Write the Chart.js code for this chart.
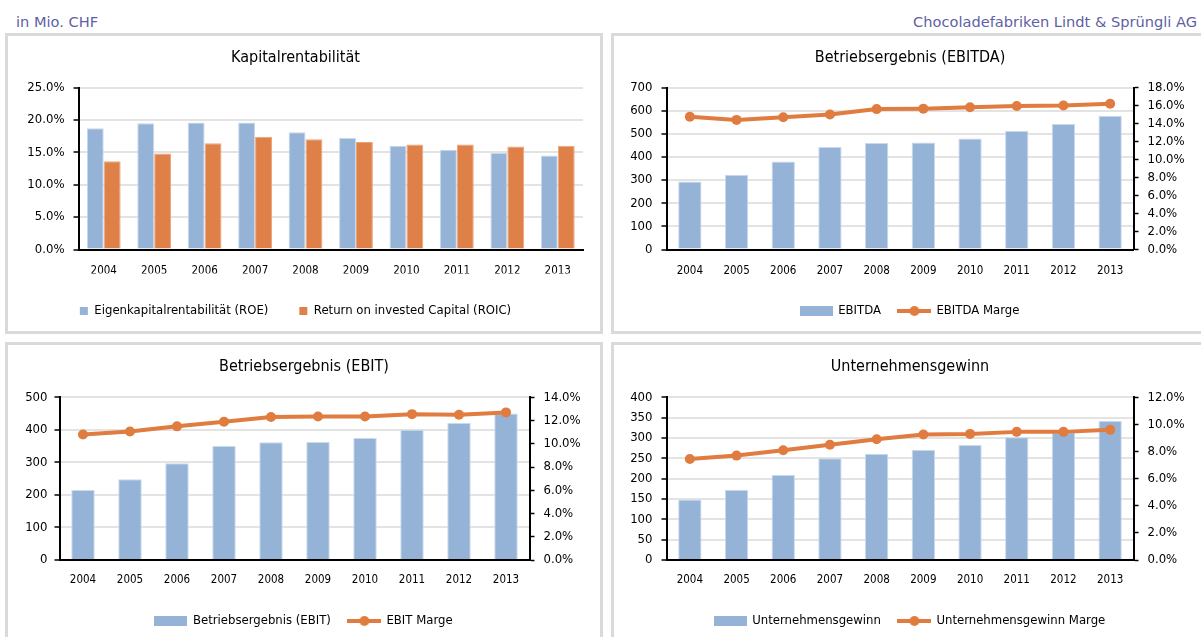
<!DOCTYPE html>
<html><head><meta charset="utf-8">
<script src="https://cdn.jsdelivr.net/npm/chart.js@4"></script>
<style>
html,body{margin:0;padding:0;background:#fff;width:1201px;height:637px;overflow:hidden;position:relative;
  font-family:'DejaVu Sans','DejaVu Sans Condensed',sans-serif;}
.hdr{position:absolute;top:13px;line-height:18px;font-size:14.6px;color:#5f5fa3;white-space:nowrap;}
.panel{position:absolute;box-sizing:border-box;border:3px solid #dadada;background:#fff;width:598px;overflow:hidden;}
.panel canvas{position:absolute;left:0;top:0;}
</style></head>
<body>
<div class="hdr" style="left:16px">in Mio. CHF</div>
<div class="hdr" style="right:4px">Chocoladefabriken Lindt &amp; Sprüngli AG</div>
<div class="panel" style="left:5px;top:33px;height:301px"><canvas id="c1" width="592" height="295"></canvas></div>
<div class="panel" style="left:611px;top:33px;height:301px"><canvas id="c2" width="592" height="295"></canvas></div>
<div class="panel" style="left:5px;top:342px;height:301px"><canvas id="c3" width="592" height="295"></canvas></div>
<div class="panel" style="left:611px;top:342px;height:301px"><canvas id="c4" width="592" height="295"></canvas></div>
<script>
const years = ['2004','2005','2006','2007','2008','2009','2010','2011','2012','2013'];
const roe  = [18.7, 19.5, 19.6, 19.6, 18.1, 17.2, 16.0, 15.4, 14.9, 14.5];
const roic = [13.6, 14.8, 16.4, 17.4, 17.0, 16.6, 16.2, 16.2, 15.9, 16.0];
const ebitda       = [294, 323, 380, 443, 460, 462, 480, 512, 542, 578];
const ebitdaMargin = [14.75, 14.4, 14.7, 15.0, 15.6, 15.65, 15.8, 15.95, 16.0, 16.2];
const ebit         = [215, 248, 297, 350, 362, 363, 375, 400, 421, 450];
const ebitMargin   = [10.8, 11.05, 11.5, 11.9, 12.3, 12.35, 12.35, 12.55, 12.5, 12.7];
const profit       = [149, 173, 209, 250, 261, 271, 283, 302, 314, 342];
const profitMargin = [7.45, 7.7, 8.1, 8.5, 8.9, 9.25, 9.3, 9.45, 9.45, 9.6];

const FONT = "'DejaVu Sans Condensed','DejaVu Sans',sans-serif";
const BLUE = '#95b3d7', ORANGE = '#e07c3f', BAR_ORANGE = '#de8048';
const W = 592, H = 295;

function barIcon(){
  const c = document.createElement('canvas'); c.width = 33; c.height = 10;
  const x = c.getContext('2d'); x.fillStyle = BLUE; x.fillRect(0,0,33,10); return c;
}
function lineIcon(){
  const c = document.createElement('canvas'); c.width = 34; c.height = 12;
  const x = c.getContext('2d'); x.strokeStyle = ORANGE; x.lineWidth = 4;
  x.beginPath(); x.moveTo(0,6); x.lineTo(34,6); x.stroke();
  x.fillStyle = ORANGE; x.beginPath(); x.arc(17,6,5,0,Math.PI*2); x.fill(); return c;
}
const pct1 = v => Number(v).toFixed(1) + '%';

function build(id, s){
  const titleSize = 16, titleLH = titleSize * 1.2;
  const legSize = 13, p = s.legPad;
  const xFont = 11.5, xLH = xFont * 1.2;
  const padTop = s.titleY - titleLH / 2;
  const padBot = s.plotTop - padTop - titleLH;
  const legendTop = s.legendY - p - legSize / 2;
  const legendH = legSize + p + 10;
  const layoutBottom = H - legendTop - legendH;
  const xAxisH = legendTop - s.plotBottom;
  const xPad = s.xLabelY - s.plotBottom - xLH / 2;

  const scales = {
    x: {
      offset: true,
      grid: { display: false, drawTicks: false },
      border: { display: true, color: '#000', width: 2, z: 1 },
      ticks: { color: '#000', font: { family: FONT, size: xFont, lineHeight: 1.2 }, padding: xPad, maxRotation: 0, autoSkip: false },
      afterFit: sc => { sc.height = xAxisH; }
    },
    y: {
      position: 'left', min: s.yMin, max: s.yMax,
      grid: { color: '#e3e3e3', lineWidth: 2, tickLength: 5, tickColor: '#000', tickWidth: 1.5 },
      border: { display: true, color: '#000', width: 2, z: 1 },
      ticks: { stepSize: s.yStep, autoSkip: false, color: '#000', font: { family: FONT, size: 13 }, padding: s.yPad, callback: s.yFmt },
      afterFit: sc => { sc.width = s.plotLeft; }
    }
  };
  if (s.y2) {
    scales.y2 = {
      position: 'right', min: 0, max: s.y2Max,
      grid: { drawOnChartArea: false, tickLength: 5, tickColor: '#000', tickWidth: 1.5 },
      border: { display: true, color: '#000', width: 2, z: 1 },
      ticks: { stepSize: 2, autoSkip: false, color: '#000', font: { family: FONT, size: 13 }, padding: 9, callback: pct1 },
      afterFit: sc => { sc.width = W - s.plotRight; }
    };
  }
  return new Chart(document.getElementById(id), {
    data: { labels: years, datasets: s.datasets },
    options: {
      responsive: false, animation: false, events: [],
      layout: { padding: { top: 0, left: 0, right: s.y2 ? 0 : W - s.plotRight, bottom: layoutBottom } },
      scales,
      plugins: {
        tooltip: { enabled: false },
        title: { display: true, text: s.title, color: '#000',
          font: { family: FONT, size: titleSize, weight: 'normal', lineHeight: 1.2 },
          padding: { top: padTop, bottom: padBot } },
        legend: { display: true, position: 'bottom',
          labels: Object.assign({ color: '#000', padding: p, font: { family: FONT, size: legSize },
            generateLabels: () => s.legend.map(it => Object.assign({ hidden: false, lineWidth: 0, fontColor: '#000' }, it)) }, s.legendOpts) }
      }
    }
  });
}

const barStyle = (data, label, color, border, extra) => Object.assign({
  type: 'bar', label, data, backgroundColor: color, borderColor: border,
  borderWidth: { top: 1, left: 1, right: 1, bottom: 0 }, borderSkipped: 'bottom', yAxisID: 'y', order: 1
}, extra || {});
const lineStyle = (data, label) => ({
  type: 'line', label, data, yAxisID: 'y2', order: 0, borderColor: ORANGE, backgroundColor: ORANGE,
  borderWidth: 4, pointRadius: 5, pointBackgroundColor: ORANGE, pointBorderColor: ORANGE, pointBorderWidth: 0,
  tension: 0, borderJoinStyle: 'round', borderCapStyle: 'round', clip: false
});

const BI = barIcon(), LI = lineIcon();
const iconLegend = { usePointStyle: true, pointStyleWidth: 31 };

build('c1', {
  title: 'Kapitalrentabilität', titleY: 22, plotTop: 51.5, plotBottom: 213.5, plotLeft: 70.5, plotRight: 575,
  xLabelY: 235, legendY: 275, legPad: 31, yMin: 0, yMax: 25, yStep: 5, yPad: 9, yFmt: pct1,
  datasets: [
    barStyle(roe, 'Eigenkapitalrentabilität (ROE)', BLUE, '#c9d8ea', { categoryPercentage: 0.67, barPercentage: 1 }),
    barStyle(roic, 'Return on invested Capital (ROIC)', BAR_ORANGE, '#eaa57c', { categoryPercentage: 0.67, barPercentage: 1 })
  ],
  legend: [
    { text: 'Eigenkapitalrentabilität (ROE)', fillStyle: BLUE, strokeStyle: BLUE, datasetIndex: 0 },
    { text: 'Return on invested Capital (ROIC)', fillStyle: BAR_ORANGE, strokeStyle: BAR_ORANGE, datasetIndex: 1 }
  ],
  legendOpts: { boxWidth: 8, boxHeight: 8 }
});

function combo(id, title, bars, barLabel, margin, marginLabel, yMax, yStep, y2Max, plotTop, plotBottom, plotLeft, plotRight, xLabelY, legendY, titleY, yPad){
  build(id, {
    title, titleY, plotTop, plotBottom, plotLeft, plotRight, xLabelY, legendY, legPad: 18,
    yMin: 0, yMax, yStep, yPad, yFmt: v => String(v), y2: true, y2Max,
    datasets: [
      lineStyle(margin, marginLabel),
      barStyle(bars, barLabel, BLUE, '#cbdaeb', { categoryPercentage: 1, barPercentage: 0.5 })
    ],
    legend: [
      { text: barLabel, fillStyle: BLUE, strokeStyle: BLUE, pointStyle: BI, datasetIndex: 1 },
      { text: marginLabel, fillStyle: ORANGE, strokeStyle: ORANGE, pointStyle: LI, datasetIndex: 0 }
    ],
    legendOpts: iconLegend
  });
}

combo('c2', 'Betriebsergebnis (EBITDA)', ebitda, 'EBITDA', ebitdaMargin, 'EBITDA Marge', 700, 100, 18,
  51.5, 213.5, 52.5, 519.5, 235, 275, 22, 9);
combo('c3', 'Betriebsergebnis (EBIT)', ebit, 'Betriebsergebnis (EBIT)', ebitMargin, 'EBIT Marge', 500, 100, 14,
  52.3, 215, 51.5, 521.5, 235, 276, 22, 7);
combo('c4', 'Unternehmensgewinn', profit, 'Unternehmensgewinn', profitMargin, 'Unternehmensgewinn Marge', 400, 50, 12,
  52.3, 215, 52.5, 519.5, 235, 276, 22, 9);
</script>
</body></html>
